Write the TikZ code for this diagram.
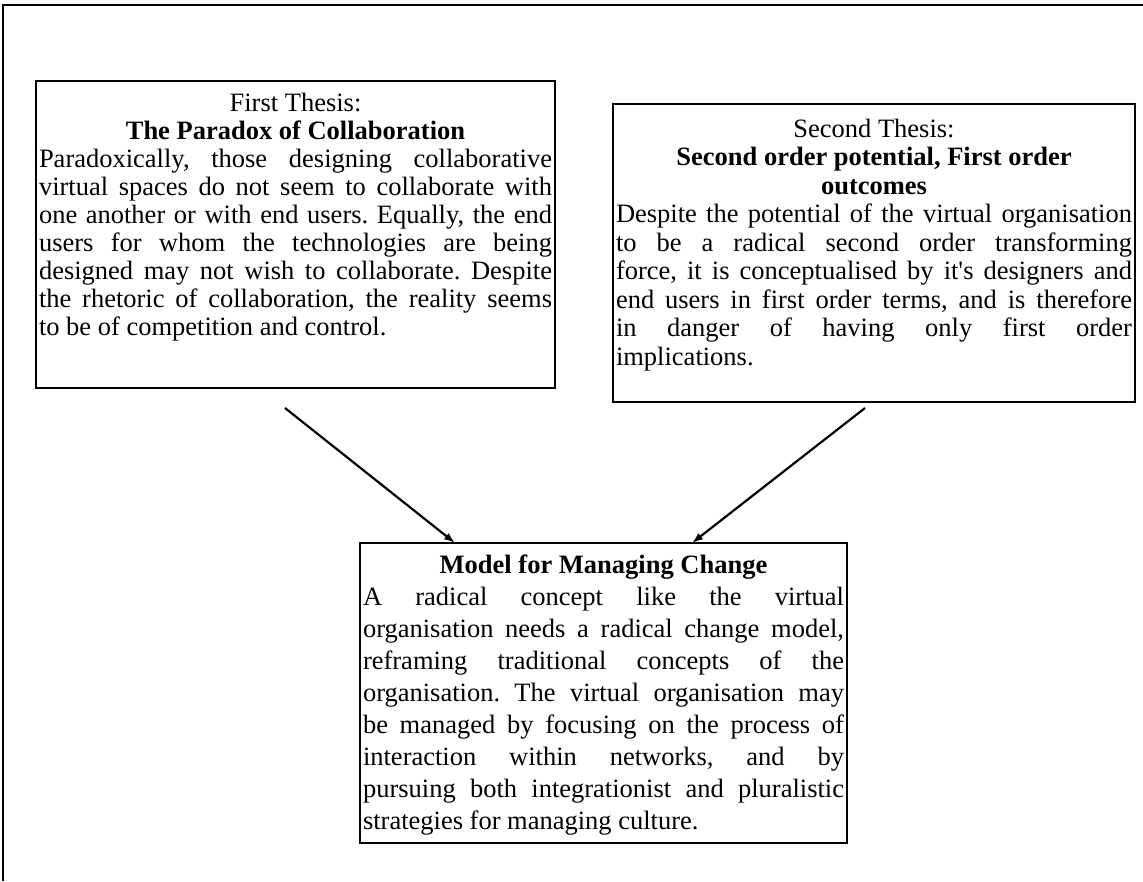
\documentclass[tikz,border=0pt]{standalone}
\usepackage{fontspec}
\setmainfont{Liberation Serif}[Ligatures=TeXOff]
\usetikzlibrary{arrows.meta,calc}
\tikzset{
  frame/.style={line width=1.8pt},
  thesis/.style={draw, line width=1.8pt, anchor=north west,
    inner xsep=3pt, inner ysep=0pt, outer sep=0pt},
  link/.style={line width=2.2pt, -{Latex[length=11pt,width=8pt]}},
}
\tolerance=10000
\hbadness=10000
\hyphenpenalty=10000
\exhyphenpenalty=10000
\frenchspacing
\begin{document}
\begin{tikzpicture}[x=1pt,y=-1pt]
\useasboundingbox (0,0) rectangle (1143,881);
% page frame, open at the right and bottom
\draw[frame] (3,881) -- (3,5) -- (1143,5);

% first thesis
\node[thesis] (b1) at (36,81) {\parbox[t][307pt][t]{513pt}{%
  \fontsize{26.5}{28}\selectfont
  {\centering\rule{0pt}{30pt}First Thesis:\\
   \textbf{The Paradox of Collaboration}\par}
  Paradoxically, those designing collaborative\linebreak
  virtual spaces do not seem to collaborate with\linebreak
  one another or with end users. Equally, the end\linebreak
  users for whom the technologies are being\linebreak
  designed may not wish to collaborate. Despite\linebreak
  the rhetoric of collaboration, the reality seems\linebreak
  to be of competition and control.}};

% second thesis
\node[thesis] (b2) at (613,104) {\parbox[t][298pt][t]{516pt}{%
  \fontsize{26.5}{28.5}\selectfont
  {\centering\rule{0pt}{33pt}Second Thesis:\\
   \textbf{Second order potential, First order}\\
   \textbf{outcomes}\par}
  Despite the potential of the virtual organisation\linebreak
  to be a radical second order transforming\linebreak
  force, it is conceptualised by it's designers and\linebreak
  end users in first order terms, and is therefore\linebreak
  in danger of having only first order\linebreak
  implications.}};

% model for managing change
\node[thesis] (b3) at (360,543) {\parbox[t][300pt][t]{481pt}{%
  \fontsize{26.5}{32}\selectfont
  {\centering\rule{0pt}{30pt}\textbf{Model for Managing Change}\par}
  A radical concept like the virtual\linebreak
  organisation needs a radical change model,\linebreak
  reframing traditional concepts of the\linebreak
  organisation. The virtual organisation may\linebreak
  be managed by focusing on the process of\linebreak
  interaction within networks, and by\linebreak
  pursuing both integrationist and pluralistic\linebreak
  strategies for managing culture.}};

% connectors
\coordinate (s1) at (285,408);
\coordinate (s2) at (865,408);
\draw[link] (s1) -- ($(b3.north west)+(95,0)$);
\draw[link] (s2) -- ($(b3.north west)+(332,0)$);
\end{tikzpicture}
\end{document}
